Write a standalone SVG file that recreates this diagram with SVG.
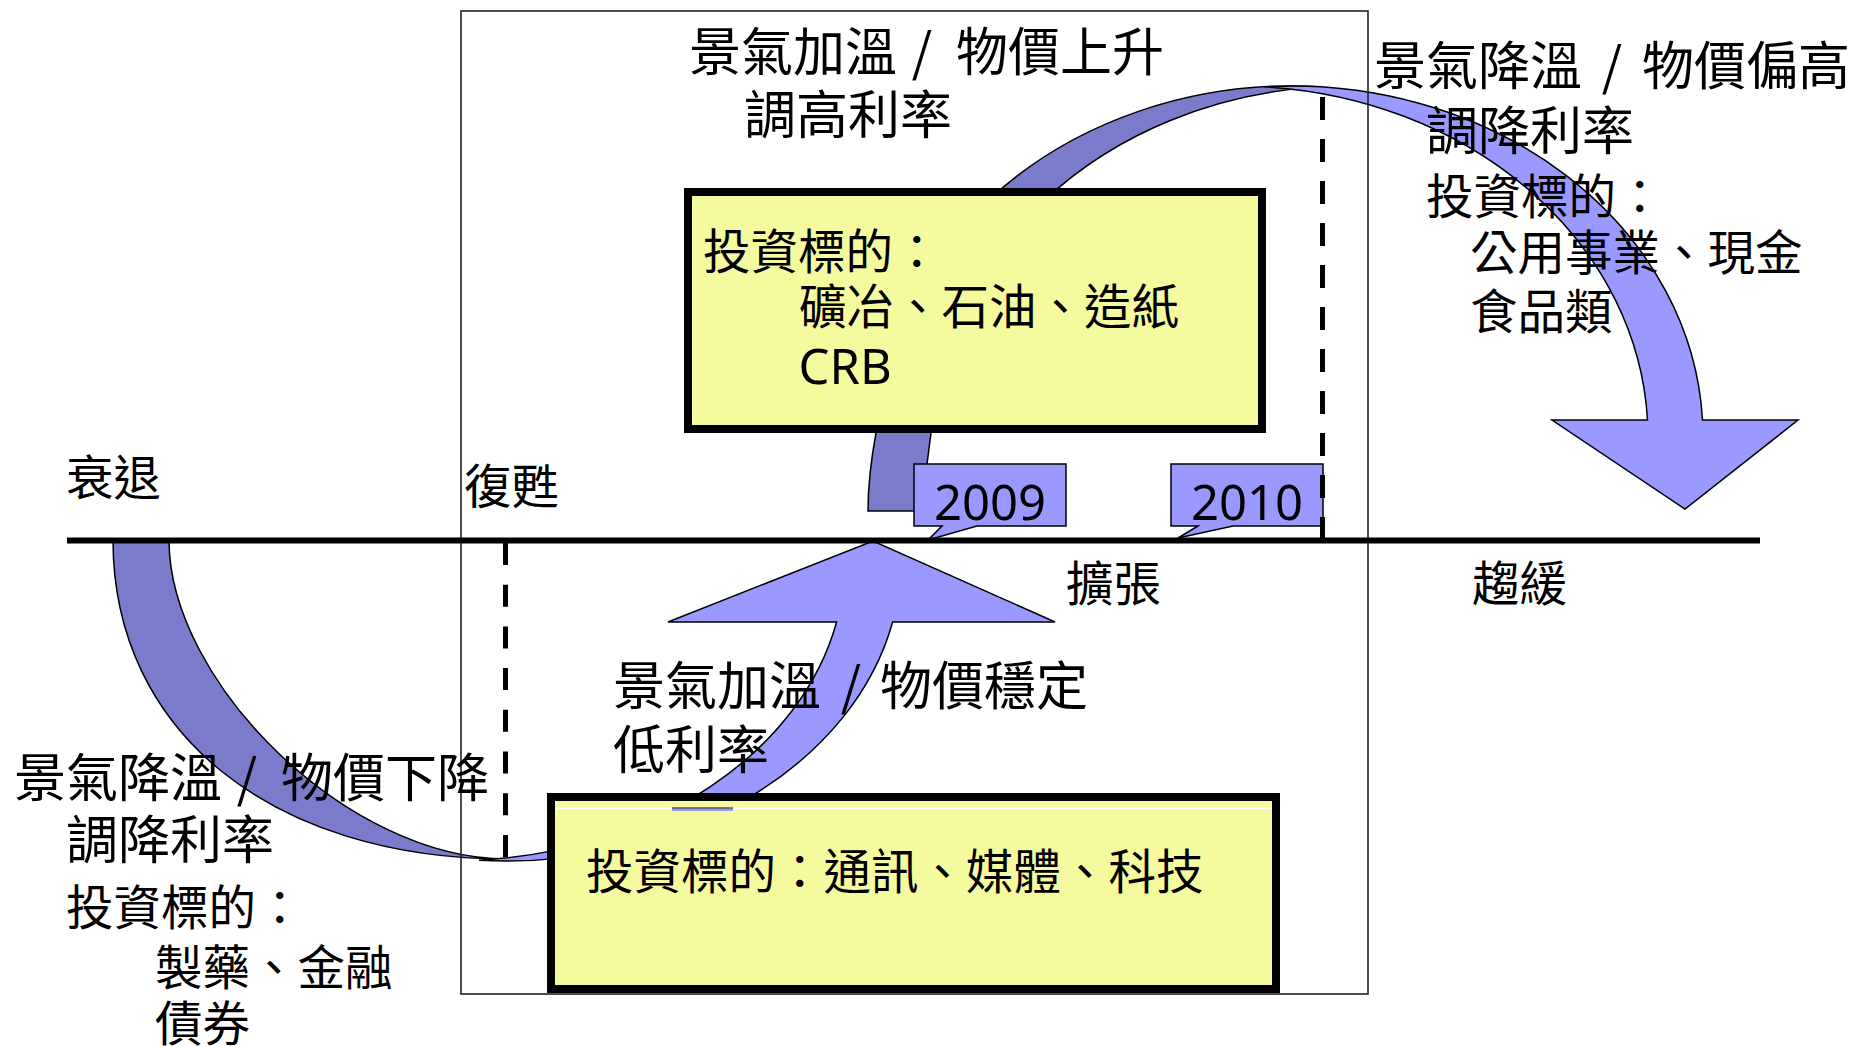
<svg xmlns="http://www.w3.org/2000/svg" width="1854" height="1046" viewBox="0 0 1854 1046">
<style>
.big{font-family:"Noto Sans CJK TC","Noto Sans CJK SC",sans-serif;font-size:52px;fill:#000}
.sm{font-family:"Noto Sans CJK TC","Noto Sans CJK SC",sans-serif;font-size:47.5px;fill:#000}
.lat{font-family:"Noto Sans","Noto Sans CJK TC",sans-serif;font-size:49px;fill:#000}
.light{fill:#9999FF;stroke:#000;stroke-width:1.5;stroke-linejoin:miter}
.dark{fill:#7B7BCC;stroke:#000;stroke-width:1.5}
.box{fill:#F6FA9E;stroke:#000;stroke-width:8}
.dash{fill:none;stroke:#000;stroke-width:5}
</style>
<rect width="1854" height="1046" fill="#fff"/>

<g id="connectors">
  <!-- top arc: dark back then light arrow -->
  <path class="dark" d="M988.8 200 A411 351 0 0 1 1320 86.8 A411 351 0 0 0 1044.8 200 Z"/>
  <path class="light" d="M1264.5 86.8 A411 351 0 0 1 1702.5 420 L1798 420 L1685 509 L1552 420 L1647.5 420 A411 351 0 0 0 1264.5 86.8 Z"/>
  <!-- bottom arc: dark back then light up arrow -->
  <path class="dark" d="M113 540 C113 732 272 859 507 859 C347 859 169 682 169 540 Z"/>
  <path class="light" d="M479 860.2 A394 301 0 0 0 892.6 622 L1055 622 L873 541 L668 622 L836.6 622 A394 301 0 0 1 479 860.2 Z"/>
  <!-- dark piece under top box -->
  <path class="dark" d="M877 425 L876 433 C871 460 868 490 868 511 L921 511 L932 425 Z"/>
</g>

<g id="frame">
  <rect x="461" y="11" width="907" height="983" fill="none" stroke="#222" stroke-width="1.6"/>
</g>

<g id="box-top">
  <rect class="box" x="688" y="192" width="574" height="237"/>
  <text class="sm" x="703" y="269">投資標的：</text>
  <text class="sm" x="799" y="324">礦冶、石油、造紙</text>
  <text class="lat" x="798.5" y="384">CRB</text>
</g>

<g id="box-bottom">
  <rect class="box" x="551" y="797" width="725" height="192"/>
  <line x1="555" y1="808.5" x2="1272" y2="808.5" stroke="#fff" stroke-width="1.5"/>
  <rect x="672" y="808.5" width="61" height="2.5" fill="#9999FF"/>
  <line x1="672" y1="808" x2="733" y2="808" stroke="#000" stroke-width="1"/>
  <text class="sm" x="586" y="889">投資標的：通訊、媒體、科技</text>
</g>

<g id="label-2009">
  <path class="light" d="M914 464 H1066 V526 H977 L928 540 L942 526 H914 Z"/>
  <text class="lat" x="990" y="520" text-anchor="middle">2009</text>
</g>
<g id="label-2010">
  <path class="light" d="M1171 464 H1323 V526 H1233 L1178 538 L1198 526 H1171 Z"/>
  <text class="lat" x="1247" y="520" text-anchor="middle">2010</text>
</g>

<g id="axis">
  <line x1="67" y1="540.5" x2="1760" y2="540.5" stroke="#000" stroke-width="6"/>
  <line class="dash" x1="1322.5" y1="97" x2="1322.5" y2="540" stroke-dasharray="23 19"/>
  <line class="dash" x1="505.5" y1="543" x2="505.5" y2="857" stroke-dasharray="22 19.7"/>
</g>

<g id="phase-labels">
  <text class="sm" x="66" y="495">衰退</text>
  <text class="sm" x="464" y="504">復甦</text>
  <text class="sm" x="1066" y="601">擴張</text>
  <text class="sm" x="1472" y="601">趨緩</text>
</g>

<g id="note-top">
  <text class="big" x="689" y="70.5">景氣加溫</text>
  <text class="big" x="922" y="70.5" text-anchor="middle">/</text>
  <text class="big" x="956" y="70.5">物價上升</text>
  <text class="big" x="744" y="134">調高利率</text>
</g>

<g id="note-right">
  <text class="big" x="1374" y="84.5">景氣降溫</text>
  <text class="big" x="1612" y="84.5" text-anchor="middle">/</text>
  <text class="big" x="1642" y="84.5">物價偏高</text>
  <text class="big" x="1426" y="150">調降利率</text>
  <text class="sm" x="1426" y="214">投資標的：</text>
  <text class="sm" x="1470" y="270">公用事業、現金</text>
  <text class="sm" x="1470" y="329">食品類</text>
</g>

<g id="note-left">
  <text class="big" x="14" y="797">景氣降溫</text>
  <text class="big" x="247" y="797" text-anchor="middle">/</text>
  <text class="big" x="281" y="797">物價下降</text>
  <text class="big" x="66" y="859">調降利率</text>
  <text class="sm" x="66" y="925">投資標的：</text>
  <text class="sm" x="155" y="985">製藥、金融</text>
  <text class="sm" x="155" y="1041">債券</text>
</g>

<g id="note-center">
  <text class="big" x="613" y="705">景氣加溫</text>
  <text class="big" x="851" y="705" text-anchor="middle">/</text>
  <text class="big" x="880" y="705">物價穩定</text>
  <text class="big" x="613" y="769">低利率</text>
</g>
</svg>
